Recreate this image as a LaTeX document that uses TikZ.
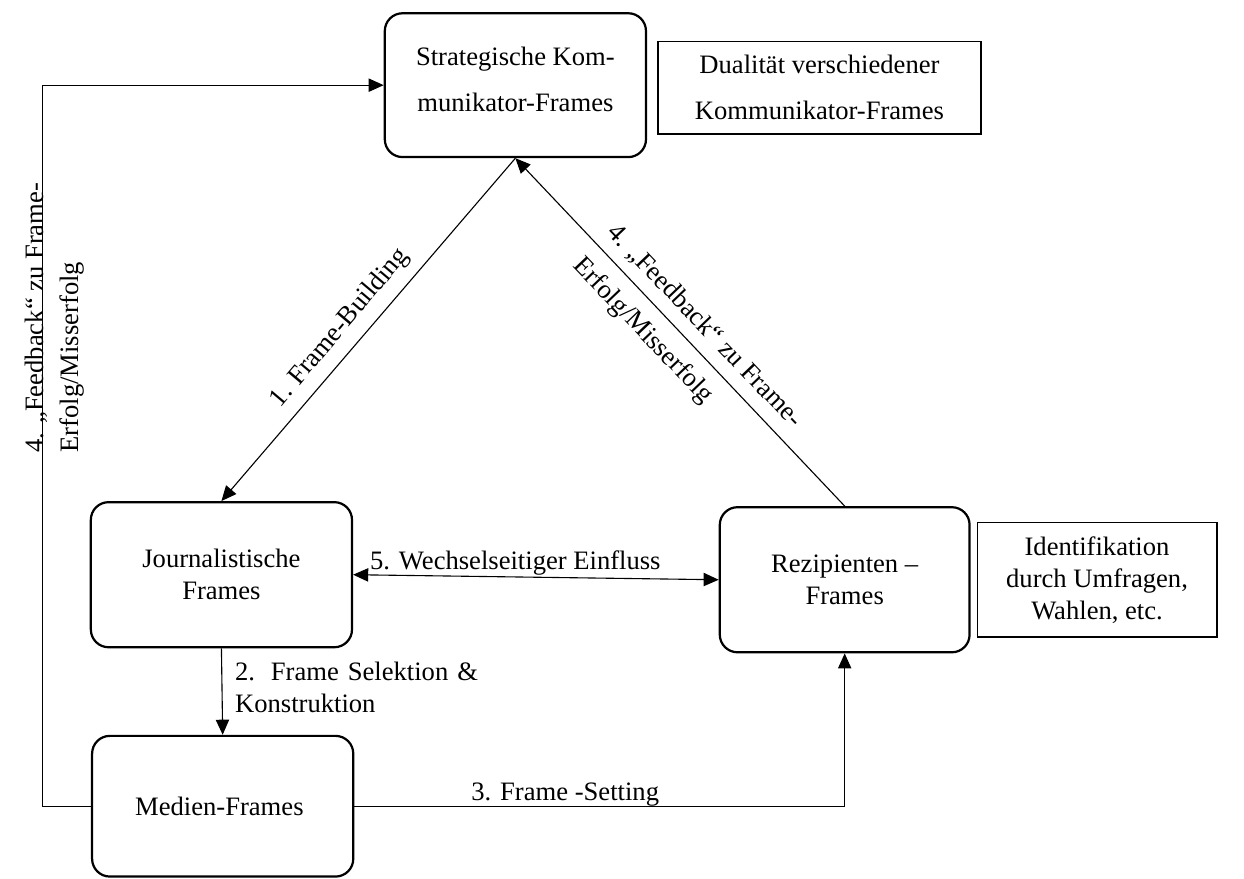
\documentclass[tikz,border=0pt]{standalone}
\usepackage{fontspec}
\setmainfont{Liberation Serif}
\usetikzlibrary{arrows.meta, positioning}
\tikzstyle{framebox}		=[rectangle, rounded corners=8pt, draw=black, line width=1pt, align=center, minimum width=4.14cm, inner sep=2pt]
\tikzstyle{notebox}		=[rectangle, draw=black, line width=0.6pt, align=center, inner sep=2pt]
\tikzstyle{flow}			=[draw=black, line width=0.5pt, -{Triangle[length=6.8pt, width=6pt]}]
\tikzstyle{twoway}		=[draw=black, line width=0.5pt, {Triangle[length=6.8pt, width=6pt]}-{Triangle[length=6.8pt, width=6pt]}]
\tikzstyle{edgetext}		=[inner sep=0pt]
\tikzstyle{raised}		=[text depth=5.5pt]

\begin{document}
\begin{tikzpicture}[font=\fontsize{12pt}{14.4pt}\selectfont]

	\useasboundingbox (0,0) rectangle (19.72,-13.93);

	% boxes
	\node (Strategie)		[framebox, raised, minimum height=2.28cm]					at (+8.17, -1.35)		{	Strategische Kom-\\[6.3pt]munikator-Frames		};
	\node (Dualitaet)		[notebox, minimum width=5.12cm, minimum height=1.47cm]		at (+12.99, -1.39)	{	Dualität verschiedener\\[6.3pt]Kommunikator-Frames	};
	\node (Journal)			[framebox, minimum height=2.30cm]							at (+3.51, -9.11)		{	Journalistische\\Frames							};
	\node (Rezipient)		[framebox, minimum width=3.96cm, minimum height=2.30cm]		at (+13.39, -9.19)	{	Rezipienten –\\Frames							};
	\node (Umfrage)			[notebox, minimum width=3.80cm, minimum height=1.82cm]		at (+17.39, -9.19)	{	Identifikation\\durch Umfragen,\\Wahlen, etc.		};
	\node (Medien)			[framebox, minimum height=2.23cm]							at (+3.53, -12.78)	{	Medien-Frames									};
	\coordinate (Ruecklauf)																at (+0.68, -12.78);

	% connectors
	\draw[flow]		(Strategie.south)	-- (Journal.north);
	\draw[flow]		(Rezipient.north)	-- (Strategie.south);
	\draw[flow]		(Journal.south)		-- (Medien.north);
	\draw[twoway]	(Journal.east)		-- (Rezipient.west);
	\draw[flow]		(Medien.east)		-| (Rezipient.south);
	\draw[flow]		(Medien.west)		-- (Ruecklauf) |- (Strategie.west);

	% labels
	\node (Building)		[edgetext, rotate=49.9]										at (+5.39, -5.20)		{	1. Frame-Building	};
	\node (Feedback)		[edgetext, rotate=-46.3, align=left]						at (+10.89, -5.44)	{	4. „Feedback“ zu Frame-\\[7pt]Erfolg/Misserfolg	};
	\node (FeedbackLinks)	[edgetext, rotate=90, align=left, anchor=west]				at (+0.87, -7.18)		{	4. „Feedback“ zu Frame-\\[1.6pt]Erfolg/Misserfolg	};
	\node (Einfluss)		[edgetext, anchor=west]										at (+5.86, -8.92)		{	5. Wechselseitiger Einfluss	};
	\node (Selektion)		[edgetext, anchor=north west, text width=3.85cm, text justified]	at (+3.72, -10.49)	{	2. Frame Selektion \& Konstruktion	};
	\node (Setting)			[edgetext]													at (+8.96, -12.59)	{	3. Frame -Setting	};

\end{tikzpicture}
\end{document}
